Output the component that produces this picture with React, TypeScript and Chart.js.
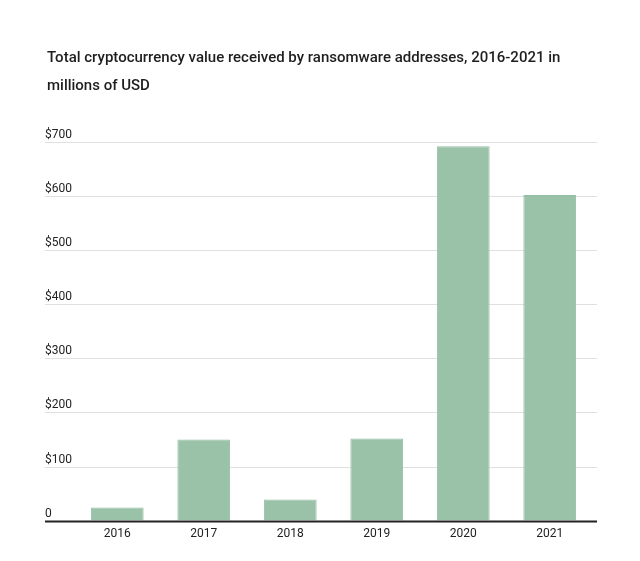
import React, { useEffect, useRef } from "react";
import { Chart, registerables } from "chart.js";

Chart.register(...registerables);

const titleLines = [
  "Total cryptocurrency value received by ransomware addresses, 2016-2021 in",
  "millions of USD",
];
const years = ["2016", "2017", "2018", "2019", "2020", "2021"];
const values = [24, 150, 39, 152, 692, 602];
const yTicks = [0, 100, 200, 300, 400, 500, 600, 700];
const yTickLabels = ["0", "$100", "$200", "$300", "$400", "$500", "$600", "$700"];

const GRID_LEFT = 45;
const GRID_RIGHT = 597;

const customPlugin = {
  id: "custom",
  beforeDatasetsDraw(chart: any) {
    const ctx = chart.ctx;
    const y = chart.scales.y;
    ctx.save();
    ctx.strokeStyle = "#e0e0e0";
    ctx.lineWidth = 1;
    yTicks.forEach((v) => {
      if (v === 0) return;
      const py = Math.round(y.getPixelForValue(v)) + 0.5;
      ctx.beginPath();
      ctx.moveTo(GRID_LEFT, py);
      ctx.lineTo(GRID_RIGHT, py);
      ctx.stroke();
    });
    ctx.fillStyle = "#222222";
    ctx.font = "12px Roboto";
    ctx.textAlign = "left";
    ctx.textBaseline = "bottom";
    yTicks.forEach((v, i) => {
      const py = y.getPixelForValue(v);
      ctx.fillText(yTickLabels[i], GRID_LEFT, py - 1);
    });
    // title
    ctx.font = "500 15px Roboto";
    ctx.fillStyle = "#1e1e1e";
    ctx.textBaseline = "middle";
    ctx.fillText(titleLines[0], 47, 58);
    ctx.fillText(titleLines[1], 47, 86);
    ctx.restore();
  },
  afterDatasetsDraw(chart: any) {
    const ctx = chart.ctx;
    const y = chart.scales.y;
    const py = y.getPixelForValue(0);
    ctx.save();
    ctx.strokeStyle = "#222222";
    ctx.lineWidth = 2;
    ctx.beginPath();
    ctx.moveTo(GRID_LEFT, py + 1);
    ctx.lineTo(GRID_RIGHT, py + 1);
    ctx.stroke();
    ctx.restore();
  },
};

export default function App() {
  const ref = useRef<HTMLCanvasElement>(null);
  useEffect(() => {
    document.body.style.margin = "0";
    const chart = new Chart(ref.current!, {
      type: "bar",
      data: {
        labels: years,
        datasets: [
          {
            data: values,
            backgroundColor: "#9ac2a9",
            borderColor: "#94bea4",
            borderWidth: 1,
            categoryPercentage: 1,
            barPercentage: 0.61,
          },
        ],
      },
      options: {
        responsive: false,
        animation: false,
        layout: { padding: { left: 74, right: 47, top: 142, bottom: 14 } },
        plugins: { legend: { display: false }, title: { display: false }, tooltip: { enabled: false } },
        scales: {
          x: {
            grid: { display: false, drawTicks: false },
            border: { display: false },
            ticks: { color: "#222222", font: { family: "Roboto", size: 12 }, padding: 6, maxRotation: 0 },
          },
          y: {
            display: false,
            min: 0,
            max: 700,
          },
        },
      },
      plugins: [customPlugin],
    });
    return () => chart.destroy();
  }, []);
  return <canvas ref={ref} width={640} height={561} style={{ display: "block" }} />;
}
